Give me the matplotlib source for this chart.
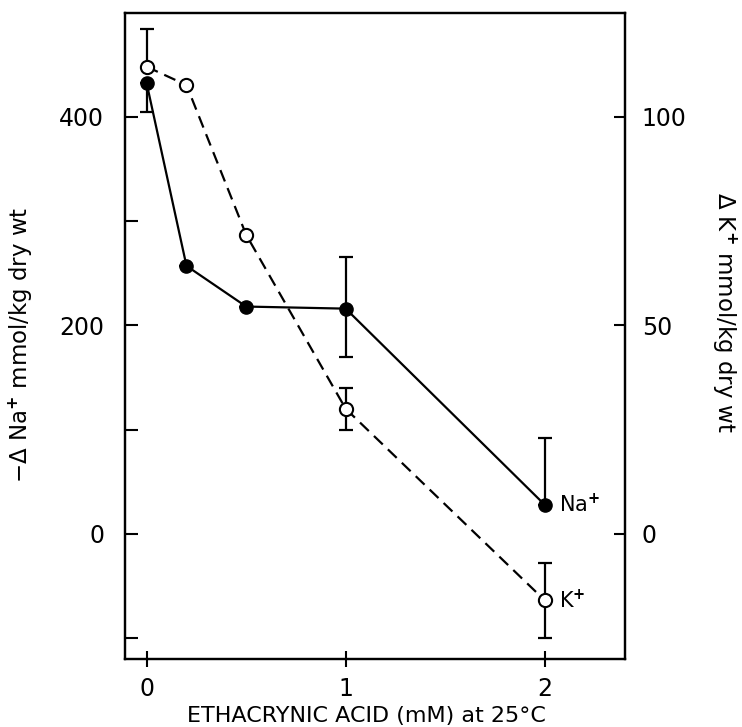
import matplotlib
matplotlib.use("Agg")
import matplotlib.pyplot as plt

# Data
conc = [0, 0.2, 0.5, 1, 2]
na_vals = [432, 257, 218, 216, 28]          # -dNa+ mmol/kg dry wt (left axis)
na_err_low = [27, 0, 0, 46, 0]
na_err_up = [0, 0, 0, 50, 64]
k_vals = [112, 107.6, 71.7, 30, -15.9]      # dK+ mmol/kg dry wt (right axis)
k_err_low = [0, 0, 0, 5, 9]
k_err_up = [9, 0, 0, 5, 9]

left_ticks = [0, 200, 400]
left_minor = [-100, 100, 300]
right_ticks = [0, 50, 100]
x_ticks = [0, 1, 2]
x_ticklabels = ['0', '1', '2']

plt.rcParams['font.family'] = ['DejaVu Sans']
plt.rcParams['mathtext.fontset'] = 'dejavusans'
W, H = 742, 727
fig = plt.figure(figsize=(W / 100, H / 100), dpi=100)
ax = fig.add_axes([125 / W, 1 - 659 / H, 500 / W, (659 - 12.5) / H])

ax.set_xlim(-0.109, 2.404)
ax.set_ylim(-120, 500)

LW = 1.6
# Na+ : filled circles, solid line
ax.plot(conc, na_vals, '-', color='black', lw=LW, zorder=3)
ax.errorbar(conc, na_vals, yerr=[na_err_low, na_err_up], fmt='none',
            ecolor='black', elinewidth=LW, capsize=5, capthick=LW, zorder=3)
ax.plot(conc, na_vals, 'o', color='black', ms=9.5, zorder=4)

ax2 = ax.twinx()
ax2.set_ylim(-30, 125)
ax2.plot(conc, k_vals, '--', color='black', lw=LW, dashes=(5.5, 3.2), zorder=3)
ax2.errorbar(conc, k_vals, yerr=[k_err_low, k_err_up], fmt='none',
             ecolor='black', elinewidth=LW, capsize=5, capthick=LW, zorder=3)
ax2.plot(conc, k_vals, 'o', mfc='white', mec='black', mew=1.5, ms=9.5, zorder=4)

for a in (ax, ax2):
    for s in a.spines.values():
        s.set_linewidth(1.6)

ax.set_xticks(x_ticks)
ax.set_xticklabels(x_ticklabels)
ax.set_yticks(left_ticks)
ax.set_yticks(left_minor, minor=True)
ax.tick_params(axis='y', which='both', direction='in', length=9, width=1.5,
               labelsize=17, pad=15)
ax.tick_params(axis='x', direction='inout', length=12, width=1.5,
               labelsize=17, pad=7)
ax2.set_yticks(right_ticks)
ax2.tick_params(axis='y', direction='in', length=8, width=1.5,
                labelsize=17, pad=12)

fig.text(366 / W, 1 - 716 / H, 'ETHACRYNIC ACID (mM) at 25°C', fontsize=16,
         ha='center', va='center')
fig.text(21 / W, 1 - 345 / H, r'$-\Delta$ Na$^{\mathbf{+}}$ mmol/kg dry wt',
         fontsize=16.5, rotation=90, ha='center', va='center')
fig.text(724 / W, 1 - 312 / H, r'$\Delta$ K$^{\mathbf{+}}$ mmol/kg dry wt',
         fontsize=16.5, rotation=270, ha='center', va='center')

ax.text(2.07, na_vals[4], r'Na$^{\mathbf{+}}$', fontsize=15, va='center', ha='left')
ax2.text(2.07, k_vals[4], r'K$^{\mathbf{+}}$', fontsize=15, va='center', ha='left')

fig.savefig('out.png', dpi=100)
